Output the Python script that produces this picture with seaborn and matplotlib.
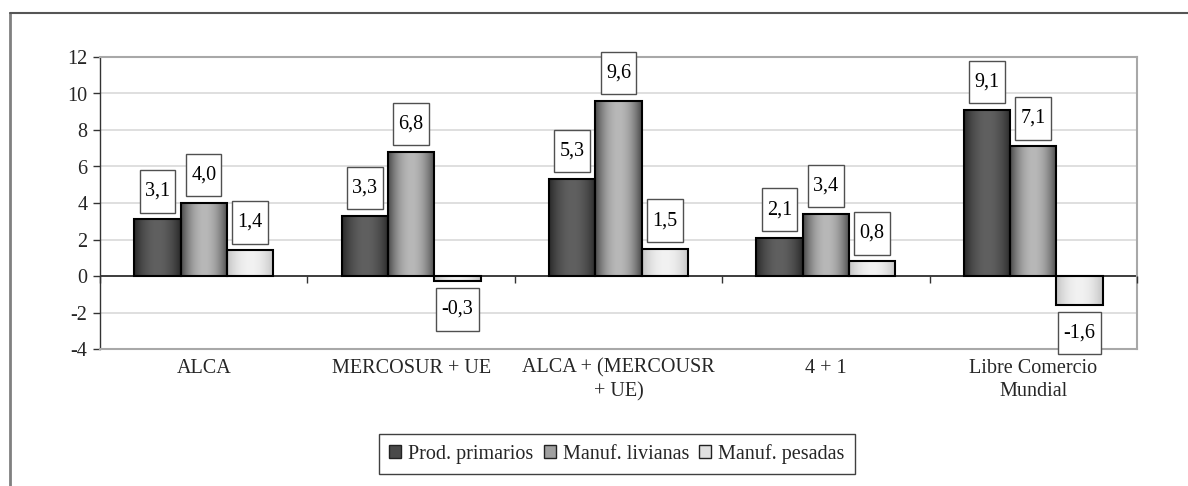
import numpy as np
import pandas as pd
import matplotlib
matplotlib.use("Agg")
import matplotlib.pyplot as plt
from matplotlib.path import Path
from matplotlib.patches import Patch
from matplotlib.lines import Line2D
from matplotlib.colors import to_rgb
import seaborn as sns

categories = ["ALCA", "MERCOSUR + UE", "ALCA + (MERCOUSR\n+ UE)", "4 + 1", "Libre Comercio\nMundial"]
series_names = ["Prod. primarios", "Manuf. livianas", "Manuf. pesadas"]
prod_primarios = [3.1, 3.3, 5.3, 2.1, 9.1]
manuf_livianas = [4.0, 6.8, 9.6, 3.4, 7.1]
manuf_pesadas = [1.4, -0.3, 1.5, 0.8, -1.6]
y_ticks = [-4, -2, 0, 2, 4, 6, 8, 10, 12]

sns.set_theme(style="white")
plt.rcParams['font.family'] = ['Liberation Serif', 'DejaVu Serif']
plt.rcParams['axes.unicode_minus'] = False
FS = 14.5

df = pd.DataFrame({
    "cat": categories * 3,
    "serie": sum([[s] * len(categories) for s in series_names], []),
    "val": prod_primarios + manuf_livianas + manuf_pesadas,
})

# gradient colours (edge, centre) and legend colour
grad = {
    "Prod. primarios": ("#2a2a2a", "#606060", "#4a4a4a"),
    "Manuf. livianas": ("#4a4a4a", "#b8b8b8", "#a0a0a0"),
    "Manuf. pesadas": ("#c4c4c4", "#f2f2f2", "#e0e0e0"),
}

fig = plt.figure(figsize=(11.88, 4.86), dpi=100)
ax = fig.add_axes([100/1188, 1-349/486, (1137-100)/1188, (349-57)/486])

sns.barplot(data=df, x="cat", y="val", hue="serie", order=categories,
            hue_order=series_names, width=0.67, gap=0, ax=ax,
            palette=[grad[s][2] for s in series_names], legend=False,
            edgecolor="black", linewidth=1.5, saturation=1)

ax.set_ylim(-4, 12)
ax.set_xlim(-0.5, len(categories) - 0.5)

# gradient fill for each bar
N = 64
t = np.linspace(0, 1, N)
prof = 1 - (2 * t - 1) ** 2
for ci, cont in enumerate(ax.containers):
    name = series_names[ci]
    e, c = np.array(to_rgb(grad[name][0])), np.array(to_rgb(grad[name][1]))
    img = e[None, :] + (c - e)[None, :] * prof[:, None]
    img = img[None, :, :]
    for p in cont.patches:
        x, y = p.get_x(), p.get_y()
        w, h = p.get_width(), p.get_height()
        y0, y1 = min(y, y + h), max(y, y + h)
        im = ax.imshow(img, extent=[x, x + w, y0, y1], aspect="auto",
                       interpolation="bilinear", zorder=0.9)
        im.set_clip_path(p)
        p.set_facecolor("none")
        p.set_zorder(1.5)

ax.set_ylim(-4, 12)
ax.set_xlim(-0.5, len(categories) - 0.5)

# labels
def tallbox(x0, y0, width, height, mutation_size):
    px = 0.26 * mutation_size
    py = 0.58 * mutation_size
    x0, y0 = x0 - px, y0 - py
    x1, y1 = x0 + width + 2 * px, y0 + height + 2 * py
    return Path([(x0, y0), (x1, y0), (x1, y1), (x0, y1), (x0, y0)], closed=True)

for cont in ax.containers:
    for p, v in zip(cont.patches, cont.datavalues):
        xc = p.get_x() + p.get_width() / 2
        off = 28 if v >= 0 else -28
        ax.annotate(f"{v:.1f}".replace(".", ","), xy=(xc, v), xytext=(0, off),
                    textcoords="offset pixels", ha="center", va="center",
                    fontsize=FS, color="black", zorder=3,
                    bbox=dict(boxstyle=tallbox, fc="white", ec="#505050", lw=1))

# grid and spines
ax.set_yticks(y_ticks)
ax.set_yticklabels([str(v) for v in y_ticks], fontsize=FS)
ax.yaxis.grid(True, color="#d9d9d9", lw=1.2)
ax.xaxis.grid(False)
ax.set_axisbelow(True)
for s in ["top", "right", "bottom"]:
    ax.spines[s].set_color("#a8a8a8")
    ax.spines[s].set_linewidth(1.5)
ax.spines["left"].set_color("#333333")
ax.spines["left"].set_linewidth(1.0)
ax.tick_params(axis="y", direction="out", length=5, width=1, color="#333333", pad=4, left=True)
ax.set_xticks(range(len(categories)))
ax.set_xticklabels(categories, fontsize=FS, linespacing=1.3)
ax.tick_params(axis="x", length=0, pad=7)
ax.set_xlabel("")
ax.set_ylabel("")
ax.axhline(0, color="#222222", lw=1.2, zorder=1.2)

# category boundary ticks on the zero line
ax2 = ax.twiny()
ax2.set_xlim(ax.get_xlim())
ax2.spines["bottom"].set_position(("data", 0))
for s in ["top", "right", "left", "bottom"]:
    ax2.spines[s].set_visible(False)
ax2.xaxis.set_ticks_position("bottom")
ax2.set_xticks(np.arange(len(categories) + 1) - 0.5)
ax2.set_xticklabels([])
ax2.tick_params(axis="x", direction="out", length=5, width=1, color="#333333")

# legend
handles = [Patch(facecolor=grad[s][2], edgecolor="#222222", lw=1) for s in series_names]
leg = fig.legend(handles, series_names, loc="center", bbox_to_anchor=(617/1188, 1-454/486),
                 ncol=3, fontsize=FS, frameon=True, fancybox=False, framealpha=1,
                 handlelength=0.6, handleheight=0.6, handletextpad=0.35,
                 columnspacing=0.5, borderpad=0.5, borderaxespad=0)
leg.get_frame().set_edgecolor("#404040")
leg.get_frame().set_linewidth(1)

# outer frame
fig.add_artist(Line2D([10/1188, 10/1188], [1-13/486, 0], transform=fig.transFigure, color="#808080", lw=2))
fig.add_artist(Line2D([10/1188, 1], [1-13/486, 1-13/486], transform=fig.transFigure, color="#555555", lw=1.5))

fig.savefig("out.png", dpi=100)
